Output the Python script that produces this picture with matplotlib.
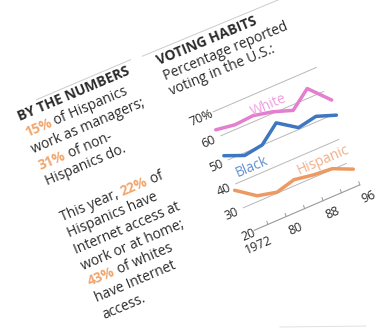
import numpy as np
import matplotlib
matplotlib.use('Agg')
import matplotlib.pyplot as plt
from matplotlib.transforms import Affine2D

plt.rcParams['font.family'] = ['Open Sans', 'DejaVu Sans']

# values
years = [1972, 1976, 1980, 1984, 1988, 1992, 1996]
white = [63, 61.8, 62.3, 60.6, 57.9, 63.7, 55.6]
black = [52.2, 49.0, 50.1, 56.0, 50.7, 52.1, 49.3]
hispanic = [37.8, 32.2, 30.4, 32.3, 31.0, 30.3, 26.8]
grid_levels = [20, 30, 40, 50, 60, 70]
y_labels = ['20', '30', '40', '50', '60', '70%']
x_ticks = [1972, 1980, 1988, 1996]
x_labels = ['1972', '80', '88', '96']

dark = '#2b2b2b'
orange = '#f2a66e'
pink = '#e47fcf'
blue = '#3f76c2'
orng = '#ee9862'

fig = plt.figure(figsize=(3.85, 3.29), dpi=100)
ax = fig.add_axes([0, 0, 1, 1])
ax.set_xlim(0, 385)
ax.set_ylim(329, 0)
ax.axis('off')
renderer = fig.canvas.get_renderer()

# the clipping is photographed at an angle, so the chart sits in a skewed frame
ang = 23.3
x0, y0 = 248, 233
tr = Affine2D.from_values(4.6, -1.98, -0.75, -2.4,
                          x0 - 4.6 * 1972 + 0.75 * 20,
                          y0 + 1.98 * 1972 + 2.4 * 20) + ax.transData

for g in grid_levels[1:]:
    ax.plot([1972.6, 1995], [g, g], color='#b8b8b8', lw=0.7, transform=tr)
ax.plot([1973.4, years[-1] + 0.3], [20, 20], color='#9a9a9a', lw=0.8, transform=tr)
for yr in years[1:]:
    ax.plot([yr + 0.3, yr + 0.3], [20, 21.3], color='#9a9a9a', lw=0.7, transform=tr)

for vals, col in [(white, pink), (black, blue), (hispanic, orng)]:
    ax.plot(years, vals, color=col, lw=2.5, solid_joinstyle='round',
            solid_capstyle='round', transform=tr)

for g, lab in zip(grid_levels[1:], y_labels[1:]):
    ax.text(1969.9, g - 0.5, lab, transform=tr, rotation=ang, rotation_mode='anchor',
            ha='center', va='center', fontsize=9, color=dark)
ax.text(1973.4, grid_levels[0] - 1.0, y_labels[0], transform=tr, rotation=ang,
        rotation_mode='anchor', ha='right', va='center', fontsize=9, color=dark)
for yr, lab in zip(x_ticks, x_labels):
    ax.text(yr + 1.3, 14, lab, transform=tr, rotation=ang, rotation_mode='anchor',
            ha='center', va='center', fontsize=9, color=dark)

ax.text(1983.6, 63.6, 'White', transform=tr, rotation=ang, rotation_mode='anchor',
        ha='center', va='center', fontsize=10, color='#f09ee0')
ax.text(1976.7, 43.8, 'Black', transform=tr, rotation=ang, rotation_mode='anchor',
        ha='center', va='center', fontsize=10, color='#6390d4')
ax.text(1990.8, 34.9, 'Hispanic', transform=tr, rotation=ang, rotation_mode='anchor',
        ha='center', va='center', fontsize=10, color='#f4ae86')


def width(s, size, wt):
    t = ax.text(0, 0, s + '|', fontsize=size, fontweight=wt)
    w = t.get_window_extent(renderer).width
    t.remove()
    t = ax.text(0, 0, '|', fontsize=size, fontweight=wt)
    w -= t.get_window_extent(renderer).width
    t.remove()
    return w


def rich(x, y, runs, angle, size):
    c, s = np.cos(np.radians(angle)), np.sin(np.radians(angle))
    for txt, col, wt in runs:
        ax.text(x, y, txt, color=col, fontsize=size, fontweight=wt, rotation=angle,
                rotation_mode='anchor', ha='left', va='baseline')
        w = width(txt, size, wt)
        x += w * c
        y -= w * s


def block(x, y, lines, angle, size, step):
    c, s = np.cos(np.radians(angle)), np.sin(np.radians(angle))
    k = 0.0
    for ln in lines:
        if ln is None:
            k += 1.2
            continue
        rich(x + k * step * s, y + k * step * c, ln, angle, size)
        k += 1


left_lines = [
    [('BY THE NUMBERS', dark, 'bold')],
    [('15%', orange, 'bold'), (' of Hispanics', dark, 'normal')],
    [('work as managers;', dark, 'normal')],
    [('31%', orange, 'bold'), (' of non-', dark, 'normal')],
    [('Hispanics do.', dark, 'normal')],
    None,
    [('This year, ', dark, 'normal'), ('22%', orange, 'bold'), (' of', dark, 'normal')],
    [('Hispanics have', dark, 'normal')],
    [('Internet access at', dark, 'normal')],
    [('work or at home;', dark, 'normal')],
    [('43%', orange, 'bold'), (' of whites', dark, 'normal')],
    [('have Internet', dark, 'normal')],
    [('access.', dark, 'normal')],
]
title_lines = [
    [('VOTING HABITS', dark, 'bold')],
    [('Percentage reported', dark, 'normal')],
    [('voting in the U.S.:', dark, 'normal')],
]

block(20, 121, left_lines, 23, 10, 17.6)
block(159, 65, title_lines, 22.5, 10, 16.5)

# thin rules above the two headings
a = np.radians(23)
ax.plot([20 + 10 * np.cos(a) + 19 * np.sin(a), 20 + 112 * np.cos(a) + 19 * np.sin(a)],
        [121 - 10 * np.sin(a) - 19 * np.cos(a), 121 - 112 * np.sin(a) - 19 * np.cos(a)],
        color='#cccccc', lw=0.7)
a = np.radians(22.5)
ax.plot([159 - 18 * np.cos(a), 159 + 140 * np.cos(a)],
        [65 + 18 * np.sin(a) - 17 * np.cos(a), 65 - 140 * np.sin(a) - 17 * np.cos(a)],
        color='#cccccc', lw=0.7)
ax.plot([280, 366], [327, 326], color='#e0e0e0', lw=0.7)

fig.savefig('out.png', dpi=100, facecolor='white')
